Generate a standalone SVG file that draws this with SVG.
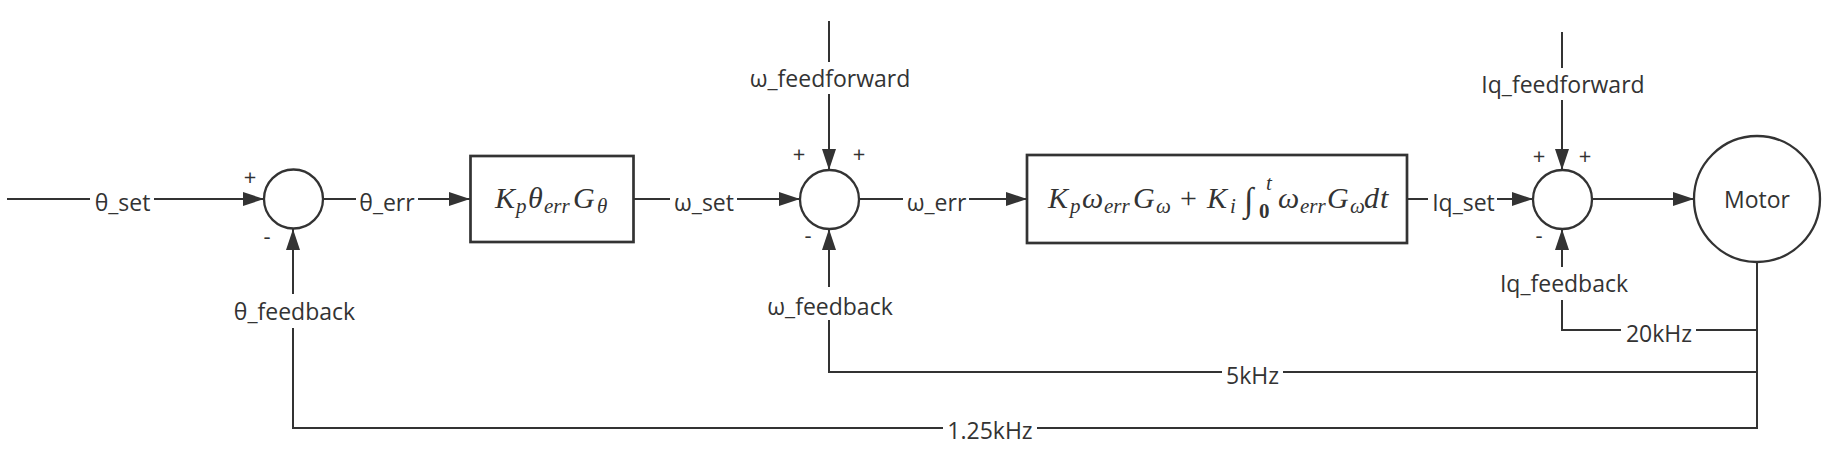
<svg xmlns="http://www.w3.org/2000/svg" width="1829" height="456" viewBox="0 0 1829 456">
<style>
.ln{fill:none;stroke:#333;stroke-width:2}
.arr{marker-end:url(#ah)}
.box{fill:#fff;stroke:#333;stroke-width:2.7}
.sum{fill:#fff;stroke:#333;stroke-width:2.3}
.lbl{font-family:"Open Sans","Noto Sans",sans-serif;font-size:23px;fill:#333;text-anchor:middle}
.sgn{font-family:"Open Sans","Noto Sans",sans-serif;font-size:22px;fill:#333;text-anchor:middle}
.gap{fill:#fff}
.m{font-family:"Liberation Serif",serif;font-style:italic;font-size:30px;fill:#333}
.s{font-size:21px}
.up{font-style:normal}
.bd{font-style:normal;font-weight:bold}
.int{font-size:34px}
</style>
<defs>
<marker id="ah" markerUnits="userSpaceOnUse" markerWidth="21" markerHeight="14" refX="21" refY="7" orient="auto">
<path d="M0,0 L21,7 L0,14 z" fill="#333"/>
</marker>
</defs>
<g id="connectors">
<path class="ln arr" d="M7,199 H264"/>
<path class="ln arr" d="M323,199 H470"/>
<path class="ln arr" d="M633,199 H800"/>
<path class="ln arr" d="M829,21 V170"/>
<path class="ln arr" d="M859,199 H1027"/>
<path class="ln arr" d="M1407,199 H1533"/>
<path class="ln arr" d="M1562,32 V170"/>
<path class="ln arr" d="M1592,199 H1694"/>
<path class="ln arr" d="M1757,262 V428 H293 V229"/>
<path class="ln arr" d="M1757,372 H829 V229"/>
<path class="ln arr" d="M1757,330 H1562 V229"/>
<g id="labels">
<rect class="gap" x="90" y="194" width="64" height="10"/>
<text class="lbl" x="122.5" y="211">θ_set</text>
<rect class="gap" x="356" y="194" width="62" height="10"/>
<text class="lbl" x="387" y="211">θ_err</text>
<rect class="gap" x="670" y="194" width="67" height="10"/>
<text class="lbl" x="704" y="211">ω_set</text>
<rect class="gap" x="903" y="194" width="66" height="10"/>
<text class="lbl" x="936.5" y="211">ω_err</text>
<rect class="gap" x="1428" y="194" width="69" height="10"/>
<text class="lbl" x="1463.5" y="211">Iq_set</text>
<rect class="gap" x="824" y="62" width="10" height="32"/>
<text class="lbl" x="830" y="87">ω_feedforward</text>
<rect class="gap" x="1557" y="68" width="10" height="32"/>
<text class="lbl" x="1563" y="93">Iq_feedforward</text>
<rect class="gap" x="288" y="294" width="10" height="34"/>
<text class="lbl" x="294.5" y="320">θ_feedback</text>
<rect class="gap" x="824" y="287" width="10" height="33"/>
<text class="lbl" x="830" y="315">ω_feedback</text>
<rect class="gap" x="1557" y="267" width="10" height="33"/>
<text class="lbl" x="1564" y="292">Iq_feedback</text>
<rect class="gap" x="1621" y="325" width="75" height="10"/>
<text class="lbl" x="1659" y="342">20kHz</text>
<rect class="gap" x="1222" y="367" width="61" height="10"/>
<text class="lbl" x="1252.5" y="384">5kHz</text>
<rect class="gap" x="943" y="423" width="94" height="10"/>
<text class="lbl" x="990" y="439">1.25kHz</text>
</g>
</g>
<g id="sum1">
<circle class="sum" cx="293.5" cy="199" r="29.5"/>
<text class="sgn" x="250" y="185">+</text>
<text class="sgn" x="267" y="244">-</text>
</g>
<g id="block-position">
<rect class="box" x="470.5" y="156" width="163" height="86"/>
<text class="m"><tspan x="495" y="208">K</tspan><tspan class="s" x="516" y="213">p</tspan><tspan x="528" y="208">θ</tspan><tspan class="s" x="544" y="213">err</tspan><tspan x="573" y="208">G</tspan><tspan class="s" x="597" y="213">θ</tspan></text>
</g>
<g id="sum2">
<circle class="sum" cx="829.5" cy="199.5" r="29.5"/>
<text class="sgn" x="799" y="162">+</text>
<text class="sgn" x="859" y="162">+</text>
<text class="sgn" x="808" y="243">-</text>
</g>
<g id="block-speed">
<rect class="box" x="1027" y="155" width="380" height="88"/>
<text class="m"><tspan x="1048" y="208">K</tspan><tspan class="s" x="1070" y="213">p</tspan><tspan x="1082" y="208">ω</tspan><tspan class="s" x="1104" y="213">err</tspan><tspan x="1133" y="208">G</tspan><tspan class="s" x="1156" y="213">ω</tspan><tspan class="up" x="1180" y="208">+</tspan><tspan x="1207" y="208">K</tspan><tspan class="s" x="1230" y="213">i</tspan><tspan class="up int" x="1244" y="211">∫</tspan><tspan class="s bd" x="1259" y="218">0</tspan><tspan class="s" x="1266" y="190">t</tspan><tspan x="1278" y="208">ω</tspan><tspan class="s" x="1300" y="213">err</tspan><tspan x="1327" y="208">G</tspan><tspan class="s" x="1350" y="213">ω</tspan><tspan x="1364" y="208">d</tspan><tspan x="1380" y="208">t</tspan></text>
</g>
<g id="sum3">
<circle class="sum" cx="1562.5" cy="199.5" r="29.5"/>
<text class="sgn" x="1539" y="164">+</text>
<text class="sgn" x="1585" y="164">+</text>
<text class="sgn" x="1539" y="243">-</text>
</g>
<g id="motor">
<circle class="sum" cx="1757" cy="199" r="63"/>
<text class="lbl" x="1757" y="208">Motor</text>
</g>
</svg>
